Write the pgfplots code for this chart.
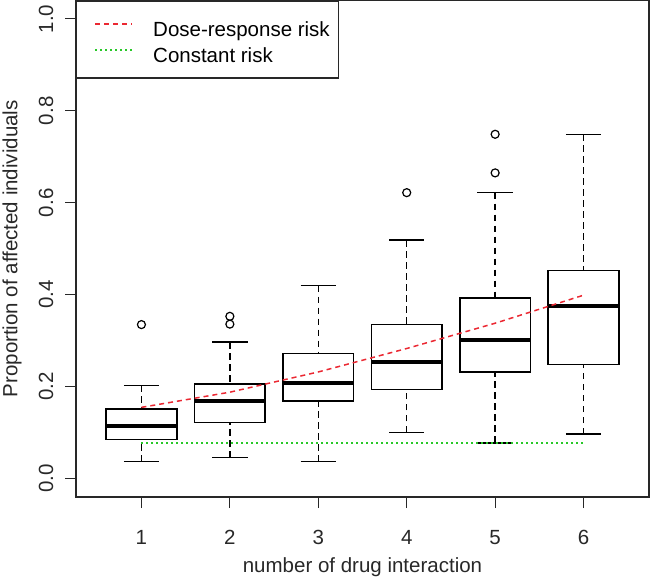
\documentclass[border=0pt]{standalone}
\usepackage{pgfplots}
\pgfplotsset{compat=1.18}
\usepgfplotslibrary{statistics}
\usepackage{fontspec}
\setmainfont{Liberation Sans}
\definecolor{rred}{RGB}{235,40,50}
\definecolor{rgreen}{RGB}{40,200,40}
\definecolor{axgray}{RGB}{40,40,40}
\newcommand{\rfont}{\fontsize{20.5}{24}\selectfont}
\begin{document}
\begin{tikzpicture}
\useasboundingbox (0,0) rectangle (650pt,578pt);
\begin{axis}[
  at={(76pt,81pt)}, anchor=south west,
  scale only axis, width=573pt, height=496.5pt,
  xmin=0.26, xmax=6.74, ymin=-0.04, ymax=1.04,
  axis line style={line width=1.2pt, axgray},
  tick pos=left, tick align=outside, major tick length=11pt,
  every tick/.style={line width=1.2pt, axgray},
  xtick={1,2,3,4,5,6}, xticklabels={1,2,3,4,5,6},
  ytick={0,0.2,0.4,0.6,0.8,1.0}, yticklabels={0.0,0.2,0.4,0.6,0.8,1.0},
  ticklabel style={font=\rfont, text=axgray},
  xticklabel style={anchor=base},
  yticklabel style={rotate=90, anchor=base},
  xticklabel shift=36pt,
  yticklabel shift=12pt,
  xlabel={number of drug interaction},
  ylabel={Proportion of affected individuals},
  every axis x label/.style={at={(axis description cs:0.5,-0.141)}, anchor=center, font=\rfont, text=axgray},
  every axis y label/.style={at={(axis description cs:-0.1115,0.5)}, rotate=90, anchor=center, font=\rfont, text=axgray},
  boxplot/draw direction=y,
  boxplot/box extend=0.8,
  boxplot/whisker extend=0.4,
  boxplot/every box/.style={line width=1.5pt},
  boxplot/every median/.style={line width=4pt},
  boxplot/draw/lower whisker/.code={%
    \draw[black, line width=1.5pt, dash pattern=on 6.5pt off 4.5pt]
      (boxplot box cs:\pgfplotsboxplotvalue{lower whisker},0.5) --
      (boxplot box cs:\pgfplotsboxplotvalue{lower quartile},0.5);
    \draw[black, line width=1.5pt]
      (boxplot whisker cs:\pgfplotsboxplotvalue{lower whisker},0) --
      (boxplot whisker cs:\pgfplotsboxplotvalue{lower whisker},1);
  },
  boxplot/draw/upper whisker/.code={%
    \draw[black, line width=1.5pt, dash pattern=on 6.5pt off 4.5pt]
      (boxplot box cs:\pgfplotsboxplotvalue{upper whisker},0.5) --
      (boxplot box cs:\pgfplotsboxplotvalue{upper quartile},0.5);
    \draw[black, line width=1.5pt]
      (boxplot whisker cs:\pgfplotsboxplotvalue{upper whisker},0) --
      (boxplot whisker cs:\pgfplotsboxplotvalue{upper whisker},1);
  },
  legend style={at={(axis description cs:0,1)}, anchor=north west,
    draw=axgray, line width=1.2pt, fill=white, font=\rfont,
    inner xsep=9pt, inner ysep=12.5pt, row sep=0pt,
    nodes={inner sep=0pt, text height=22.5pt, text depth=3.5pt},
    cells={anchor=west}},
  legend image code/.code={\path (-9pt,0pt) (57pt,0pt); \draw[#1] (0pt,2.5pt) -- (37pt,2.5pt);},
]
% box 1
\addplot[black, forget plot, mark=o, mark size=4pt, mark options={line width=1.2pt, solid},
  boxplot prepared={draw position=1, lower whisker=0.037, lower quartile=0.0855,
  median=0.114, upper quartile=0.1515, upper whisker=0.203}]
  coordinates {(0,0.335)};
% box 2
\addplot[black, forget plot, mark=o, mark size=4pt, mark options={line width=1.2pt, solid},
  boxplot prepared={draw position=2, lower whisker=0.0457, lower quartile=0.1225,
  median=0.169, upper quartile=0.206, upper whisker=0.297}]
  coordinates {(0,0.336) (0,0.353)};
% box 3
\addplot[black, forget plot, mark=o, mark size=4pt, mark options={line width=1.2pt, solid},
  boxplot prepared={draw position=3, lower whisker=0.037, lower quartile=0.169,
  median=0.209, upper quartile=0.272, upper whisker=0.42}]
  coordinates {};
% box 4
\addplot[black, forget plot, mark=o, mark size=4pt, mark options={line width=1.2pt, solid},
  boxplot prepared={draw position=4, lower whisker=0.1007, lower quartile=0.194,
  median=0.254, upper quartile=0.335, upper whisker=0.519}]
  coordinates {(0,0.622)};
% box 5
\addplot[black, forget plot, mark=o, mark size=4pt, mark options={line width=1.2pt, solid},
  boxplot prepared={draw position=5, lower whisker=0.0775, lower quartile=0.232,
  median=0.301, upper quartile=0.393, upper whisker=0.622}]
  coordinates {(0,0.665) (0,0.749)};
% box 6
\addplot[black, forget plot, mark=o, mark size=4pt, mark options={line width=1.2pt, solid},
  boxplot prepared={draw position=6, lower whisker=0.097, lower quartile=0.2485,
  median=0.375, upper quartile=0.453, upper whisker=0.749}]
  coordinates {};
% lines
\addplot[color=rred, line width=1.5pt, dash pattern=on 5pt off 4pt, mark=none]
  coordinates {(1,0.155) (2,0.188) (3,0.232) (4,0.283) (5,0.338) (6,0.399)};
\addplot[color=rgreen, line width=1.6pt, dash pattern=on 1.6pt off 3.4pt, mark=none]
  coordinates {(1,0.077) (6,0.077)};
\legend{Dose-response risk, Constant risk}
\end{axis}
\end{tikzpicture}
\end{document}
